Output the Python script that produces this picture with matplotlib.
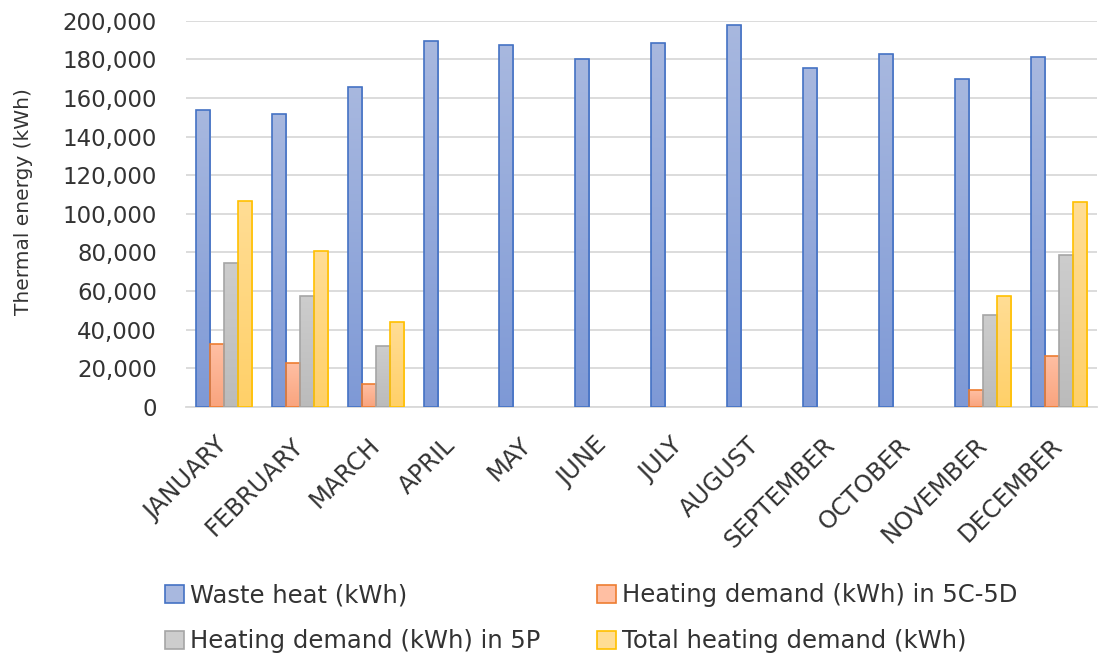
import numpy as np
import matplotlib
matplotlib.use("Agg")
import matplotlib.pyplot as plt
from matplotlib.colors import LinearSegmentedColormap
from matplotlib.patches import Patch
from matplotlib.ticker import FuncFormatter, MultipleLocator

months = ["JANUARY", "FEBRUARY", "MARCH", "APRIL", "MAY", "JUNE", "JULY",
          "AUGUST", "SEPTEMBER", "OCTOBER", "NOVEMBER", "DECEMBER"]
waste_heat = [154000, 151500, 165500, 189500, 187200, 180200, 188600,
              197800, 175500, 182900, 169600, 181200]
demand_5c5d = [32600, 22600, 11900, 0, 0, 0, 0, 0, 0, 0, 8600, 26600]
demand_5p = [74800, 57400, 31800, 0, 0, 0, 0, 0, 0, 0, 47500, 78800]
total_demand = [106900, 80500, 44200, 0, 0, 0, 0, 0, 0, 0, 57400, 106200]

series_labels = ["Waste heat (kWh)", "Heating demand (kWh) in 5C-5D",
                 "Heating demand (kWh) in 5P", "Total heating demand (kWh)"]
edge_colors = ["#4472C4", "#ED7D31", "#A5A5A5", "#FFC000"]
grad_top = ["#A8B8DF", "#FFBFA3", "#CDCDCD", "#FFDD95"]
grad_bot = ["#7E99D6", "#F9A47E", "#BBBBBB", "#FFD068"]

plt.rcParams['font.family'] = ['DejaVu Sans']
fig = plt.figure(figsize=(10.99, 6.61), dpi=100)
ax = fig.add_axes([0.1692, 0.3843, 0.8288, 0.5844])

x = np.arange(len(months))
width = 0.185
data = [waste_heat, demand_5c5d, demand_5p, total_demand]
offsets = (np.arange(4) - 1.5) * width

grad = np.linspace(0, 1, 256).reshape(-1, 1)
for i, vals in enumerate(data):
    bars = ax.bar(x + offsets[i], vals, width, facecolor='none',
                  edgecolor=edge_colors[i], linewidth=1.2, zorder=4)
    cmap = LinearSegmentedColormap.from_list(f"g{i}", [grad_bot[i], grad_top[i]])
    for b in bars:
        h = b.get_height()
        if h <= 0:
            b.set_visible(False)
            continue
        x0 = b.get_x()
        im = ax.imshow(grad, extent=(x0, x0 + b.get_width(), 0, h), origin='lower',
                       cmap=cmap, aspect='auto', zorder=3, interpolation='bilinear')
        im.set_clip_path(b)

ax.set_xlim(-0.5, len(months) - 0.5)
ax.set_ylim(0, 200000)
ax.set_aspect('auto')
ax.yaxis.set_major_locator(MultipleLocator(20000))
ax.yaxis.set_major_formatter(FuncFormatter(lambda v, p: f"{int(v):,}"))
ax.grid(axis='y', color='#D9D9D9', linewidth=1.3, zorder=0)
ax.set_axisbelow(True)
for s in ['top', 'right', 'left']:
    ax.spines[s].set_visible(False)
ax.spines['bottom'].set_color('#D9D9D9')
ax.spines['bottom'].set_linewidth(1.3)
ax.tick_params(axis='both', length=0, labelcolor='#333333')
ax.tick_params(axis='y', pad=21, labelsize=16.5)

ax.set_xticks(x)
ax.set_xticklabels(months, rotation=45, ha='right', va='center',
                   rotation_mode='anchor', fontsize=17.5)
ax.tick_params(axis='x', pad=25)

ax.set_ylabel("Thermal energy (kWh)", fontsize=14.5, color='#333333')
ax.yaxis.set_label_coords(-0.168, 0.531)

order = [0, 2, 1, 3]
handles = [Patch(facecolor=grad_top[i], edgecolor=edge_colors[i], linewidth=1.2)
           for i in order]
fig.legend(handles, [series_labels[i] for i in order], loc='upper left', ncol=2,
           frameon=False, fontsize=17.5, bbox_to_anchor=(0.150, 0.1175),
           handlelength=0.78, handleheight=0.78, handletextpad=0.25,
           columnspacing=2.35, labelspacing=0.9, labelcolor='#333333',
           borderaxespad=0, borderpad=0)

fig.savefig("out.png", dpi=100)
